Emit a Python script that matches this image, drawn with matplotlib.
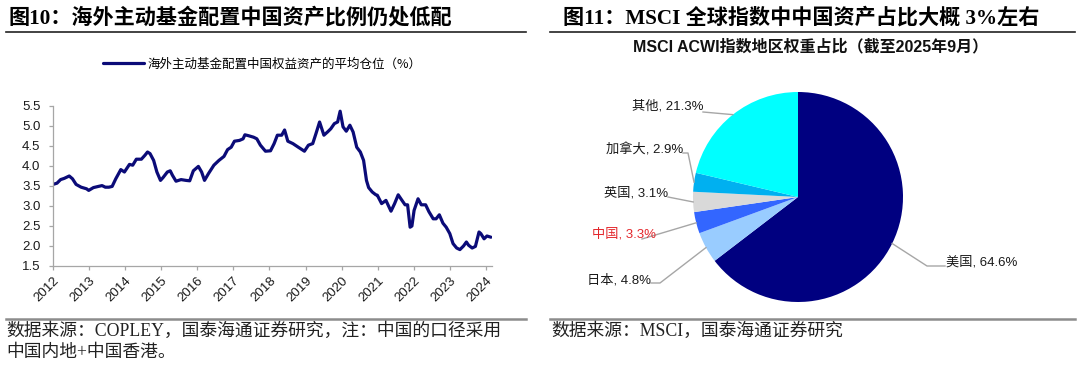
import matplotlib
matplotlib.use('Agg')
import matplotlib.pyplot as plt
from matplotlib.lines import Line2D
import numpy as np

# ---------------- data ----------------
years = [2012.00, 2012.11, 2012.21, 2012.31, 2012.45, 2012.54, 2012.64, 2012.78, 2012.93, 2012.99,
         2013.12, 2013.26, 2013.36, 2013.45, 2013.55, 2013.64, 2013.74, 2013.88, 2013.98,
         2014.12, 2014.21, 2014.31, 2014.45, 2014.55, 2014.62, 2014.69, 2014.79, 2014.88, 2014.98,
         2015.05, 2015.17, 2015.25, 2015.31, 2015.41, 2015.55, 2015.69, 2015.79, 2015.89,
         2016.03, 2016.12, 2016.20, 2016.31, 2016.46, 2016.60, 2016.74, 2016.84, 2016.94,
         2017.03, 2017.17, 2017.27, 2017.32, 2017.41, 2017.56, 2017.65, 2017.75, 2017.89,
         2018.03, 2018.13, 2018.22, 2018.34, 2018.42, 2018.51, 2018.65, 2018.80, 2018.97,
         2019.08, 2019.20, 2019.29, 2019.39, 2019.51, 2019.61, 2019.70, 2019.80, 2019.89, 2019.96,
         2020.04, 2020.13, 2020.23, 2020.32, 2020.42, 2020.52, 2020.61, 2020.69, 2020.75, 2020.85, 2020.95, 2020.99,
         2021.11, 2021.23, 2021.37, 2021.47, 2021.57, 2021.66, 2021.76, 2021.83, 2021.90, 2021.95,
         2022.01, 2022.12, 2022.21, 2022.33, 2022.42, 2022.54, 2022.62, 2022.71, 2022.81, 2022.90,
         2023.00, 2023.09, 2023.19, 2023.28, 2023.38, 2023.46, 2023.52, 2023.62, 2023.71, 2023.81, 2023.86, 2023.95,
         2024.03, 2024.14]
weights = [3.54, 3.57, 3.66, 3.69, 3.75, 3.68, 3.54, 3.47, 3.43, 3.39,
           3.46, 3.49, 3.51, 3.47, 3.47, 3.49, 3.68, 3.91, 3.85,
           4.04, 4.02, 4.17, 4.17, 4.27, 4.35, 4.31, 4.14, 3.85, 3.64,
           3.71, 3.85, 3.88, 3.77, 3.62, 3.66, 3.64, 3.63, 3.88,
           3.99, 3.85, 3.64, 3.81, 4.02, 4.14, 4.24, 4.41, 4.47,
           4.62, 4.64, 4.68, 4.78, 4.76, 4.72, 4.68, 4.52, 4.37,
           4.38, 4.56, 4.77, 4.77, 4.90, 4.62, 4.56, 4.47, 4.37,
           4.52, 4.56, 4.81, 5.10, 4.77, 4.85, 4.93, 5.06, 5.10, 5.37,
           4.98, 4.87, 5.02, 4.85, 4.47, 4.35, 4.14, 3.64, 3.46, 3.35, 3.28, 3.27,
           3.06, 3.14, 2.87, 3.06, 3.28, 3.16, 3.03, 3.03, 2.47, 2.50,
           2.89, 3.18, 3.03, 3.03, 2.86, 2.68, 2.68, 2.78, 2.57, 2.47,
           2.31, 2.06, 1.95, 1.91, 2.00, 2.10, 2.02, 1.95, 1.99, 2.35, 2.31, 2.18,
           2.25, 2.22]
series_name = '海外主动基金配置中国权益资产的平均仓位（%）'
year_ticks = list(range(2012, 2025))
value_ticks = [1.5, 2.0, 2.5, 3.0, 3.5, 4.0, 4.5, 5.0, 5.5]

regions = ['美国', '日本', '中国', '英国', '加拿大', '其他']
shares = [64.6, 4.8, 3.3, 3.1, 2.9, 21.3]

# ---------------- style ----------------
W, H = 1080, 375
CJK = ['Noto Sans CJK SC']
SANS = ['Liberation Sans', 'Noto Sans CJK SC']
SERIF = ['Liberation Serif', 'Noto Sans CJK SC']
pie_colors = ['#000080', '#99CCFF', '#3366FF', '#D9D9D9', '#00B0F0', '#00FFFF']
line_color = '#0B0B78'
grey = '#A6A6A6'

fig = plt.figure(figsize=(W / 100, H / 100), dpi=100)
fig.patch.set_facecolor('white')


def box(x0, y0, x1, y1):
    return [x0 / W, 1 - y1 / H, (x1 - x0) / W, (y1 - y0) / H]


def fx(px):
    return px / W


def fy(py):
    return 1 - py / H


# ---------------- titles / rules ----------------
fig.text(fx(8), fy(18), '图10：海外主动基金配置中国资产比例仍处低配', family=SERIF,
         fontsize=15.2, fontweight='bold', va='center', ha='left')
fig.text(fx(563), fy(18), '图11：MSCI 全球指数中中国资产占比大概 3%左右', family=SERIF,
         fontsize=15.2, fontweight='bold', va='center', ha='left')
for x0, x1 in [(6, 526), (550, 1075)]:
    fig.add_artist(Line2D([fx(x0), fx(x1)], [fy(32), fy(32)], color='#222222', lw=1.2))
    fig.add_artist(Line2D([fx(x0), fx(x1)], [fy(319), fy(319)], color='#8C8C8C', lw=1.8))

fig.text(fx(6), fy(331), '数据来源：COPLEY，国泰海通证券研究，注：中国的口径采用', family=SERIF,
         fontsize=12.8, va='center', ha='left', color='#222222')
fig.text(fx(6), fy(353), '中国内地+中国香港。', family=SERIF,
         fontsize=12.8, va='center', ha='left', color='#222222')
fig.text(fx(551), fy(331), '数据来源：MSCI，国泰海通证券研究', family=SERIF,
         fontsize=12.8, va='center', ha='left', color='#222222')

# ---------------- line chart ----------------
ax = fig.add_axes(box(53, 106, 492, 266))
ln, = ax.plot(years, weights, color=line_color, lw=2.3, solid_joinstyle='round',
              solid_capstyle='round')
ax.set_xlim(2012, 2024.17)
ax.set_ylim(1.5, 5.5)
ax.set_yticks(value_ticks)
ax.set_yticklabels([f'{v:.1f}' for v in value_ticks], family=SANS, fontsize=9.5)
ax.set_xticks(year_ticks)
ax.set_xticklabels([str(y) for y in year_ticks], family=SANS, fontsize=9.5,
                   rotation=45, ha='right', rotation_mode='anchor')
for s in ['top', 'right']:
    ax.spines[s].set_visible(False)
for s in ['left', 'bottom']:
    ax.spines[s].set_color(grey)
    ax.spines[s].set_linewidth(0.9)
ax.tick_params(axis='both', direction='out', length=3, width=0.9, color=grey,
               labelcolor='#1A1A1A', pad=3)
ax.tick_params(axis='y', pad=6)
ax.set_facecolor('white')

ax.legend([ln], [series_name], loc='center', bbox_to_anchor=(fx(262), fy(64)),
          bbox_transform=fig.transFigure, frameon=False, handlelength=3.3,
          handletextpad=0.3, prop={'family': CJK, 'size': 9})

# ---------------- pie chart ----------------
cx, cy, r = 798, 197, 105
pax = fig.add_axes(box(cx - r, cy - r, cx + r, cy + r))
wedges, _ = pax.pie(shares, colors=pie_colors, startangle=90, counterclock=False,
                    radius=1, wedgeprops=dict(linewidth=0))
pax.set_xlim(-1, 1)
pax.set_ylim(-1, 1)
pax.axis('off')


def d(px, py):
    return ((px - cx) / r, (cy - py) / r)


# label layout in figure pixels: text anchor, alignment, leader points from text side
layout = {
    '其他': ((703, 106), 'right', [(703, 112)]),
    '加拿大': ((683, 150), 'right', [(683, 153), (688, 153)]),
    '英国': ((668, 193), 'right', [(668, 197)]),
    '中国': ((656, 234), 'right', [(642, 239)]),
    '日本': ((651, 280), 'right', [(651, 283), (660, 283)]),
    '美国': ((946, 262), 'left', [(945, 266), (927, 266)]),
}
for w, name, val in zip(wedges, regions, shares):
    mid = np.deg2rad((w.theta1 + w.theta2) / 2)
    anchor = (np.cos(mid), np.sin(mid))
    (tx, ty), ha, pts = layout[name]
    xs = [d(*p)[0] for p in pts] + [anchor[0]]
    ys = [d(*p)[1] for p in pts] + [anchor[1]]
    pax.plot(xs, ys, color=grey, lw=1.0, clip_on=False, zorder=1)
    col = '#E3262B' if name == '中国' else '#1A1A1A'
    px_, py_ = d(tx, ty)
    pax.text(px_, py_, f'{name}, {val:.1f}%', ha=ha, va='center', fontsize=9.5,
             family=SANS, color=col, clip_on=False)

fig.text(fx(811), fy(47), 'MSCI ACWI指数地区权重占比（截至2025年9月）', family=SANS,
         fontsize=11.5, fontweight='bold', ha='center', va='center', color='#111111')

fig.savefig('out.png', dpi=100, facecolor='white')
